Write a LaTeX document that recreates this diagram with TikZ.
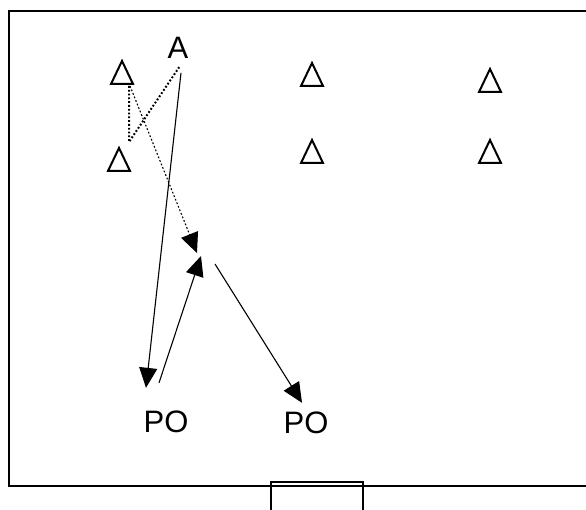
\documentclass[tikz,border=0pt]{standalone}
\usepackage{fontspec}
\setmainfont{Liberation Sans}
\usetikzlibrary{arrows.meta,shapes.geometric}

\begin{document}
\begin{tikzpicture}[
  x=1pt,y=-1pt,
  cone/.style={draw,line width=2pt,isosceles triangle,isosceles triangle stretches,shape border rotate=90,minimum width=22pt,minimum height=23pt,inner sep=0pt,anchor=south},
  lbl/.style={font=\fontsize{31}{31}\selectfont,inner sep=0pt},
  arr/.style={-{Triangle[length=20pt,width=18pt]},line width=1.1pt},
  dots/.style={line width=2pt,dash pattern=on 1.8pt off 2pt},
  field/.style={line width=2pt}]
  \useasboundingbox (0,0) rectangle (586,510);
  \draw[field] (590,11) -- (8.5,11) -- (8.5,486) -- (590,486);
  \draw[field] (271,515) -- (271,482) -- (363,482) -- (363,515);

  \node[cone] (t1) at (122,85) {};
  \node[cone] (t2) at (119,172) {};
  \node[cone] (t3) at (312,87) {};
  \node[cone] (t4) at (312,164) {};
  \node[cone] (t5) at (490,93) {};
  \node[cone] (t6) at (490,164) {};
  \node[lbl] (A) at (178,48) {A};
  \node[lbl] (po1) at (166,422) {PO};
  \node[lbl] (po2) at (306,423) {PO};
  \coordinate (ball) at (206,260);

  \draw[dots] ([xshift=7pt,yshift=-1pt]t1.south) -- ++(0,56) -- ([xshift=2pt,yshift=-7pt]A.south);
  \draw[dots,arr] ([xshift=8pt,yshift=-1pt]t1.south) -- ([xshift=-9pt,yshift=7pt]ball);
  \draw[arr] ([xshift=3pt,yshift=-14pt]A.south) -- ([xshift=-20pt,yshift=23pt]po1.north);
  \draw[arr] ([xshift=-7pt,yshift=28pt]po1.north) -- ([xshift=-5pt,yshift=4pt]ball);
  \draw[arr] ([xshift=9pt,yshift=-4pt]ball) -- ([xshift=-4pt,yshift=9pt]po2.north);
\end{tikzpicture}
\end{document}
